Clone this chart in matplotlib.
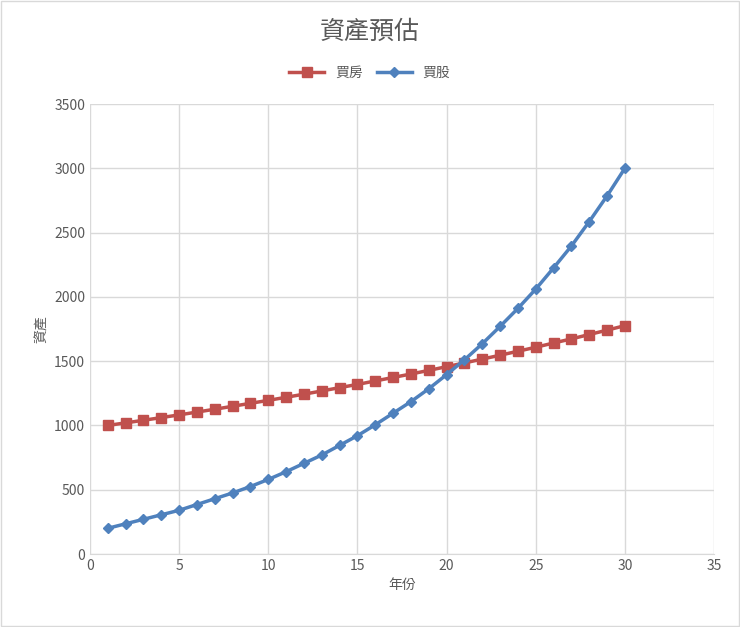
import matplotlib.pyplot as plt

plt.rcParams['font.family'] = ['Noto Sans CJK TC', 'DejaVu Sans']

years = list(range(1, 31))
house = [1000, 1020, 1040, 1061, 1082, 1104, 1126, 1149, 1172, 1195,
         1219, 1243, 1268, 1294, 1319, 1346, 1373, 1400, 1428, 1457,
         1486, 1516, 1546, 1577, 1608, 1641, 1673, 1707, 1741, 1776]
stock = [200, 235, 270, 305, 340, 385, 430, 475, 525, 580,
         640, 705, 770, 845, 920, 1005, 1095, 1185, 1285, 1395,
         1510, 1635, 1770, 1910, 2060, 2225, 2395, 2585, 2785, 3000]

fig = plt.figure(figsize=(7.4, 6.27), dpi=100)
fig.patches.append(plt.Rectangle((0.002, 0.002), 0.996, 0.996, transform=fig.transFigure,
                                 fill=False, edgecolor='#d9d9d9', linewidth=1))
ax = fig.add_axes([90 / 740, 1 - 554 / 627, 624 / 740, 450 / 627])

ax.plot(years, house, color='#c0504d', marker='s', markersize=7, linewidth=2.5, label='買房')
ax.plot(years, stock, color='#4f81bd', marker='D', markersize=5, linewidth=2.5, label='買股')

ax.set_xlim(0, 35)
ax.set_ylim(0, 3500)
ax.set_xticks(range(0, 36, 5))
ax.set_yticks(range(0, 3501, 500))
ax.grid(True, color='#d9d9d9', linewidth=1)
ax.set_axisbelow(True)
for s in ax.spines.values():
    s.set_visible(False)
ax.spines['bottom'].set_visible(True)
ax.spines['bottom'].set_color('#d9d9d9')
ax.tick_params(length=0, colors='#595959', labelsize=10)
ax.set_xlabel('年份', color='#595959', fontsize=10)
ax.set_ylabel('資產', color='#595959', fontsize=10)

fig.text(0.5, 1 - 32 / 627, '資產預估', ha='center', va='center', fontsize=18, color='#595959')
fig.legend(loc='center', bbox_to_anchor=(0.5, 1 - 73 / 627), ncol=2, frameon=False,
           fontsize=10, labelcolor='#595959', handlelength=2.5, columnspacing=1.0)

fig.savefig('out.png', dpi=100)
